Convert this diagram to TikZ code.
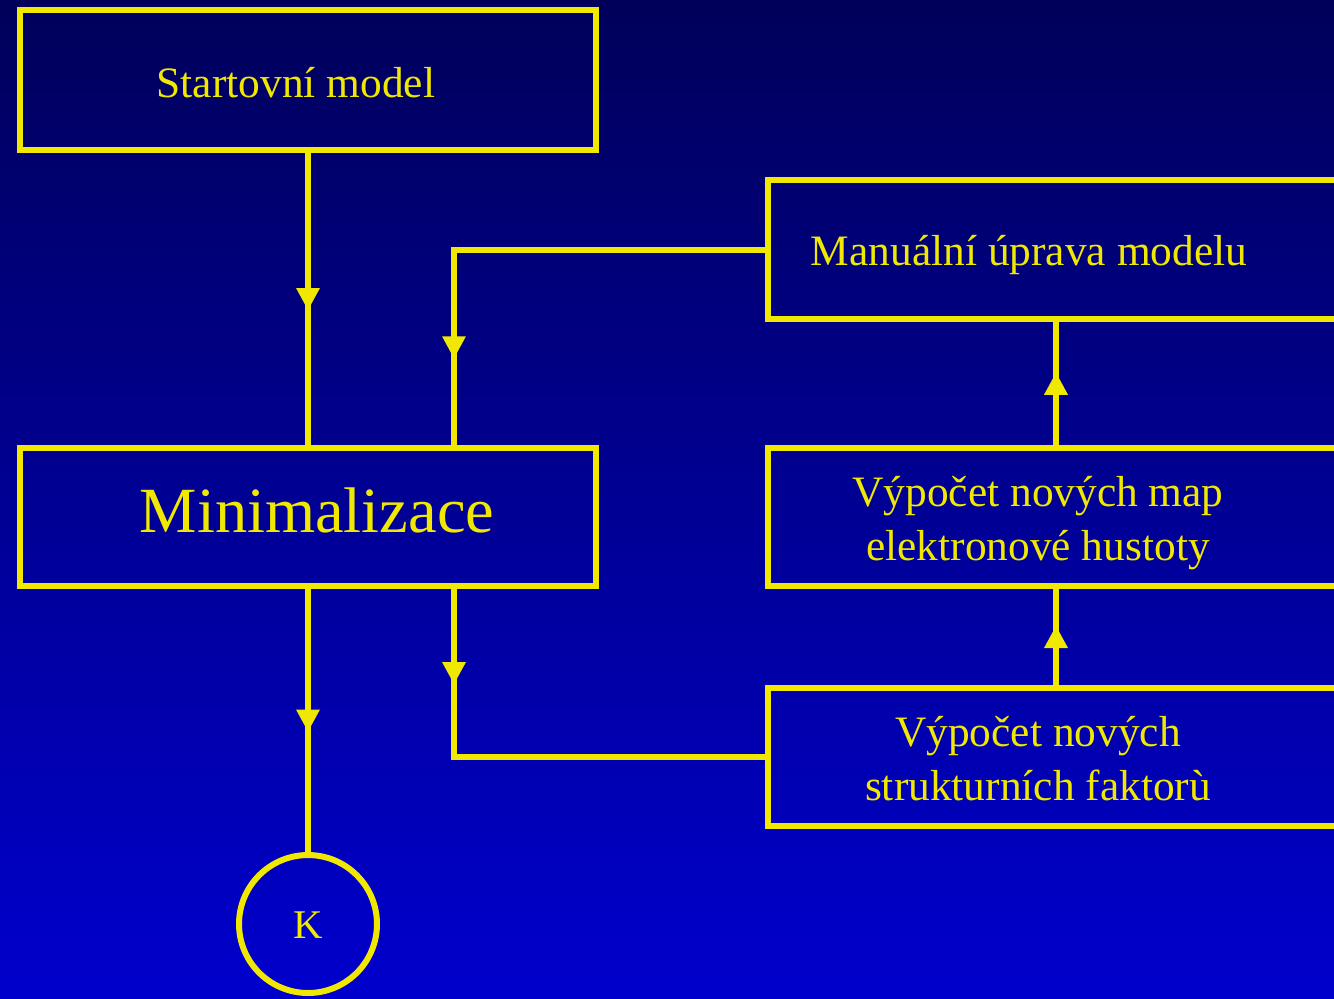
\documentclass[tikz,border=0pt]{standalone}
\usepackage{fontspec}
\setmainfont{Liberation Serif}
\usetikzlibrary{arrows.meta,decorations.markings,positioning}

\definecolor{slideyellow}{RGB}{240,232,0}
\definecolor{slidetop}{RGB}{0,0,90}
\definecolor{slidebottom}{RGB}{0,0,205}

\begin{document}
\begin{tikzpicture}[x=0.02cm, y=-0.02cm,
  box/.style={draw=slideyellow, line width=0.12cm, minimum width=11.52cm, minimum height=2.8cm},
  stop/.style={draw=slideyellow, line width=0.12cm, circle, minimum size=2.76cm},
  txt/.style={text=slideyellow, anchor=base, align=center, font=\fontsize{24.7}{30.2}\selectfont},
  wire/.style={draw=slideyellow, line width=0.12cm},
  flow/.style={wire, postaction={decorate}, decoration={markings,
    mark=at position 0.5 with {\arrow[xshift=0.22cm, slideyellow]{Triangle[width=0.48cm, length=0.44cm, line width=0pt]}}}}]

% background
\shade[top color=slidetop, bottom color=slidebottom] (0,0) rectangle (1334,998);
\useasboundingbox (0,0) rectangle (1334,998);

% boxes
\node[box] (start) at (308,80) {};
\node[box, minimum height=2.76cm] (minim) at (308,517) {};
\node[box] (manual) at (1056,249.5) {};
\node[box, minimum height=2.76cm] (mapy) at (1056,517) {};
\node[box, minimum height=2.76cm] (faktory) at (1056,757) {};
\node[stop] (konec) at (308,924) {};

% texts (base = last line)
\node[txt] (starttext) at (296,97) {Startovní model};
\node[txt, font=\fontsize{36.7}{44}\selectfont] (minimtext) at (317,532) {Minimalizace};
\node[txt] (manualtext) at (1029,265) {Manuální úprava modelu};
\node[txt] (mapytext) at (1038,560) {Výpočet nových map\\elektronové hustoty};
\node[txt] (faktorytext) at (1038,800) {Výpočet nových\\strukturních faktorù};
\node[txt, font=\fontsize{23.2}{28}\selectfont] (konectext) at (308,938) {K};

% connectors
\draw[flow] (start) -- (minim);
\draw[flow] (minim) -- (konec);
\draw[flow] (faktory) -- (mapy);
\draw[flow] (mapy) -- (manual);

\coordinate (horni) at (454,249.5);
\coordinate (dolni) at (454,757);
\draw[wire, line cap=rect] (manual.west) -- (horni);
\draw[flow] (horni) -- (horni |- minim.north);
\draw[flow] (minim.south -| dolni) -- (dolni);
\draw[wire, line cap=rect] (dolni) -- (faktory.west);
\end{tikzpicture}
\end{document}
